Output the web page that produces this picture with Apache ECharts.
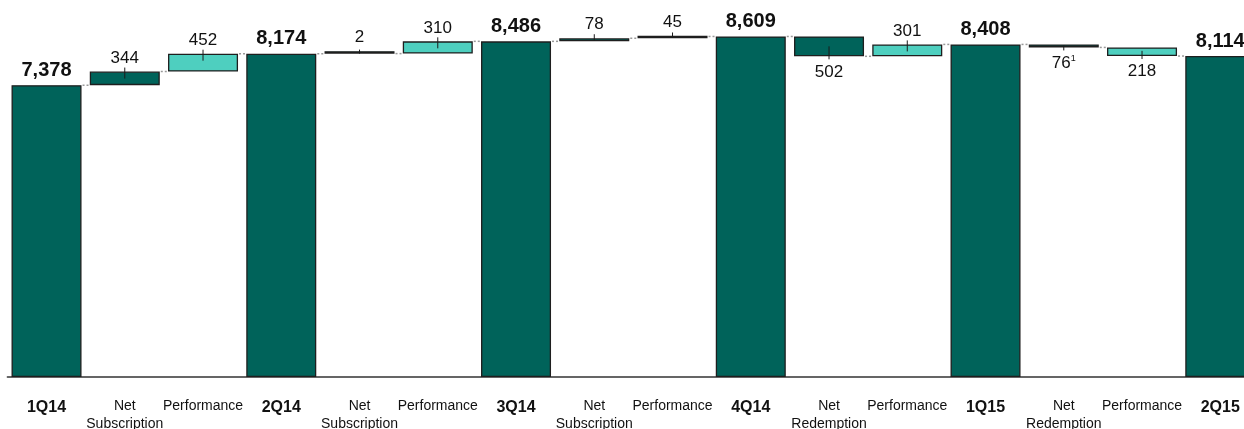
<!DOCTYPE html>
<html>
<head>
<meta charset="utf-8">
<script src="https://cdn.jsdelivr.net/npm/echarts@6/dist/echarts.min.js"></script>
<style>
html,body{margin:0;padding:0;background:#fff;overflow:hidden;}
#chart{width:1260px;height:429px;}
</style>
</head>
<body>
<div id="chart"></div>
<script>
// ---- data ----
const categories = ['1Q14','Net\nSubscription','Performance','2Q14','Net\nSubscription','Performance','3Q14','Net\nSubscription','Performance','4Q14','Net\nRedemption','Performance','1Q15','Net\nRedemption','Performance','2Q15'];
const kinds = ['total','flow','perf','total','flow','perf','total','flow','perf','total','flow','perf','total','flow','perf','total'];
const amounts = [7378, 344, 452, 8174, 2, 310, 8486, 78, 45, 8609, -502, 301, 8408, -76, -218, 8114];
const footnotes = ['','','','','','','','','','','','','','1','',''];
const yTicks = [0, 9000];

// ---- styles ----
const DARK = '#00635a';
const LIGHT = '#4ecfbf';
const FONT = "'Liberation Sans', Arial, sans-serif";

// derived stacks
const bases = [], visible = [], ends = [];
let level = 0;
amounts.forEach((a, i) => {
  if (kinds[i] === 'total') { bases.push(0); visible.push(a); level = a; }
  else if (a >= 0) { bases.push(level); visible.push(a); level += a; }
  else { bases.push(level + a); visible.push(-a); level += a; }
  ends.push(level);
});

function fmt(v) { return Math.abs(v).toLocaleString('en-US'); }

const barData = visible.map((v, i) => {
  const k = kinds[i];
  const neg = amounts[i] < 0;
  const txt = footnotes[i] ? '{v|' + fmt(amounts[i]) + '}{s|' + footnotes[i] + '}' : (k === 'total' ? '{t|' + fmt(amounts[i]) + '}' : '{v|' + fmt(amounts[i]) + '}');
  return {
    value: v,
    itemStyle: { color: k === 'perf' ? LIGHT : DARK },
    label: {
      show: true,
      position: neg ? 'bottom' : 'top',
      distance: neg ? 7 : 5,
      formatter: txt
    }
  };
});

const connData = ends.slice(0, -1).map((e, i) => [i, e]);
const tickData = amounts.map((a, i) => kinds[i] === 'total' ? null : [i, bases[i], bases[i] + visible[i], a >= 0 ? 1 : -1]).filter(Boolean);

const chart = echarts.init(document.getElementById('chart'), null, { renderer: 'canvas' });
chart.setOption({
  animation: false,
  textStyle: { fontFamily: FONT },
  grid: { left: 7.4, top: 21, right: 0.6, bottom: 52, containLabel: false, outerBoundsMode: 'none' },
  xAxis: {
    type: 'category',
    data: categories,
    axisTick: { show: false },
    axisLine: { lineStyle: { color: '#333', width: 1.5 } },
    axisLabel: {
      interval: 0,
      margin: 20,
      color: '#111',
      formatter: (val, idx) => kinds[idx] === 'total' ? '{b|' + val + '}' : val.split('\n').map(s => '{r|' + s + '}').join('\n'),
      rich: {
        b: { fontSize: 16, fontWeight: 'bold', lineHeight: 21, color: '#111', fontFamily: FONT },
        r: { fontSize: 14, lineHeight: 18, color: '#111', fontFamily: FONT }
      }
    }
  },
  yAxis: {
    type: 'value',
    min: yTicks[0], max: yTicks[1],
    show: false,
    splitLine: { show: false }
  },
  series: [
    {
      type: 'bar', stack: 'w', barWidth: 70,
      itemStyle: { color: 'transparent' },
      emphasis: { disabled: true },
      data: bases
    },
    {
      type: 'bar', stack: 'w', barWidth: 70, barMinHeight: 2.5,
      itemStyle: { borderColor: '#1e1e1e', borderWidth: 1.3 },
      emphasis: { disabled: true },
      label: {
        color: '#111',
        rich: {
          t: { fontSize: 20, fontWeight: 'bold', color: '#111', fontFamily: FONT },
          v: { fontSize: 17, color: '#111', fontFamily: FONT },
          s: { fontSize: 9, color: '#111', verticalAlign: 'top', fontFamily: FONT }
        }
      },
      data: barData
    },
    {
      type: 'custom',
      silent: true,
      z: 5,
      data: connData,
      renderItem: (params, api) => {
        const i = api.value(0);
        const p0 = api.coord([i, api.value(1)]);
        const p1 = api.coord([i + 1, api.value(1)]);
        const half = 35;
        return {
          type: 'line',
          shape: { x1: p0[0] + half + 1, y1: p0[1], x2: p1[0] - half - 1, y2: p1[1] },
          style: { stroke: '#9a9a9a', lineWidth: 1.5, lineDash: [2, 2] }
        };
      }
    },
    {
      type: 'custom',
      silent: true,
      z: 6,
      data: tickData,
      renderItem: (params, api) => {
        const i = api.value(0);
        const lo = api.coord([i, api.value(1)]);
        const hi = api.coord([i, api.value(2)]);
        const h = lo[1] - hi[1];
        let y1, y2;
        if (api.value(3) > 0) {
          y1 = hi[1] - 4; y2 = hi[1] + Math.min(7, h * 0.6);
        } else {
          y1 = lo[1] + 3; y2 = lo[1] - Math.min(10, h * 0.6);
        }
        return {
          type: 'line',
          shape: { x1: hi[0], y1: y1, x2: hi[0], y2: y2 },
          style: { stroke: '#1a1a1a', lineWidth: 1 }
        };
      }
    }
  ]
});
</script>
</body>
</html>
